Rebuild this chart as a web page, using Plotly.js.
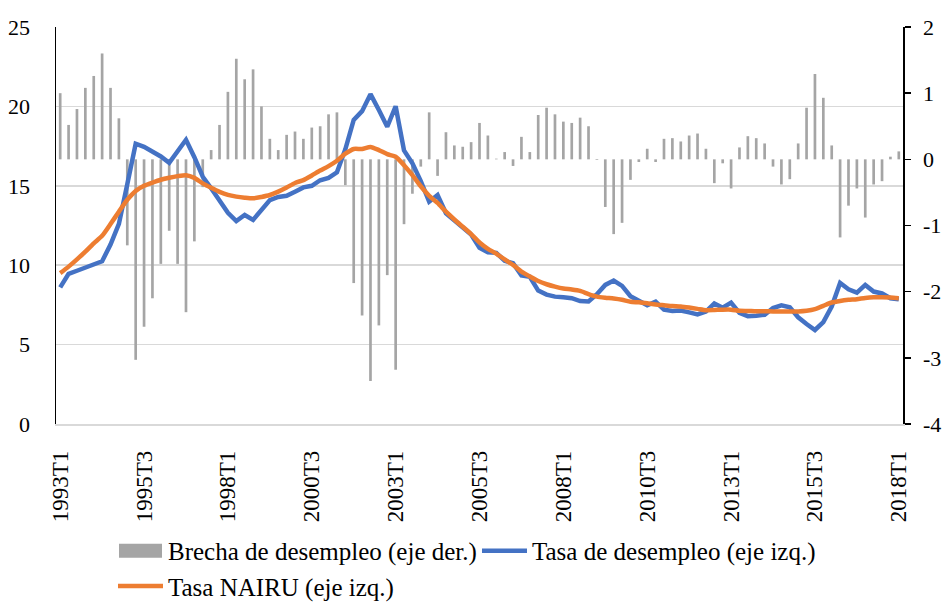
<!DOCTYPE html>
<html>
<head>
<meta charset="utf-8">
<script src="https://cdn.plot.ly/plotly-3.0.1.min.js"></script>
<style>
  html, body { margin: 0; padding: 0; background: #fff; }
  #chart { width: 944px; height: 604px; }
</style>
</head>
<body>
<div id="chart"></div>
<script>
// Quarterly categories 1993T1 .. 2018T1
const startYear = 1993;
const endYear = 2018;
const quarters = [];
for (let y = startYear; y <= endYear; y++) {
  for (let q = 1; q <= 4; q++) {
    if (y === endYear && q > 1) break;
    quarters.push(y + 'T' + q);
  }
}

const tickLabels = ['1993T1', '1995T3', '1998T1', '2000T3', '2003T1', '2005T3',
                    '2008T1', '2010T3', '2013T1', '2015T3', '2018T1'];

// Brecha de desempleo (eje der.)
const brecha = [
  1.00, 0.52, 0.76, 1.08, 1.26, 1.60, 1.08, 0.62, -1.30, -3.03,
  -2.53, -2.10, -1.58, -1.08, -1.58, -2.31, -1.24, -0.42, 0.14, 0.52,
  1.02, 1.52, 1.21, 1.36, 0.80, 0.31, 0.14, 0.37, 0.42, 0.31,
  0.48, 0.50, 0.68, 0.71, -0.39, -1.87, -2.36, -3.35, -2.51, -1.75,
  -3.18, -0.98, -0.52, -0.11, 0.71, -0.25, 0.41, 0.21, 0.19, 0.26,
  0.55, 0.36, 0.01, 0.11, -0.10, 0.34, 0.11, 0.67, 0.78, 0.68,
  0.57, 0.55, 0.63, 0.50, -0.01, -0.72, -1.13, -0.96, -0.31, -0.04,
  0.16, -0.04, 0.31, 0.32, 0.27, 0.36, 0.39, 0.16, -0.36, -0.06,
  -0.44, 0.18, 0.35, 0.32, 0.24, -0.11, -0.38, -0.30, 0.24, 0.78,
  1.29, 0.93, 0.21, -1.18, -0.70, -0.44, -0.88, -0.38, -0.33, 0.04,
  0.12
];

// Tasa de desempleo (eje izq.)
const desempleo = [
  8.60, 9.45, 9.65, 9.85, 10.10, 10.25, 11.30, 12.60, 15.10, 17.65,
  17.45, 17.15, 16.85, 16.45, 17.15, 17.90, 16.80, 15.57, 14.85, 14.10,
  13.30, 12.78, 13.16, 12.85, 13.47, 14.10, 14.30, 14.37, 14.63, 14.90,
  15.00, 15.35, 15.50, 15.85, 17.30, 19.15, 19.70, 20.77, 19.77, 18.72,
  20.01, 17.23, 16.42, 15.30, 14.00, 14.42, 13.27, 12.85, 12.42, 11.93,
  11.10, 10.82, 10.78, 10.28, 10.12, 9.35, 9.27, 8.40, 8.15, 8.02,
  7.98, 7.92, 7.74, 7.72, 8.17, 8.76, 9.03, 8.70, 8.05, 7.80,
  7.48, 7.70, 7.20, 7.12, 7.15, 7.03, 6.90, 7.08, 7.59, 7.32,
  7.64, 7.00, 6.79, 6.82, 6.88, 7.30, 7.47, 7.35, 6.72, 6.30,
  5.92, 6.42, 7.40, 8.88, 8.48, 8.27, 8.76, 8.34, 8.22, 7.92,
  7.85
];

// Tasa NAIRU (eje izq.)
const nairu = [
  9.50, 9.91, 10.37, 10.85, 11.38, 11.85, 12.59, 13.37, 14.12, 14.68,
  15.00, 15.20, 15.38, 15.51, 15.61, 15.67, 15.50, 15.15, 14.87, 14.62,
  14.43, 14.32, 14.25, 14.21, 14.30, 14.42, 14.63, 14.89, 15.18, 15.36,
  15.65, 15.96, 16.24, 16.58, 17.02, 17.32, 17.32, 17.45, 17.25, 16.99,
  16.83, 16.30, 15.67, 14.97, 14.37, 13.92, 13.37, 12.88, 12.42, 11.96,
  11.43, 11.03, 10.73, 10.36, 10.02, 9.60, 9.29, 9.00, 8.80, 8.65,
  8.53, 8.47, 8.38, 8.18, 8.02, 7.95, 7.90, 7.82, 7.70, 7.66,
  7.60, 7.53, 7.48, 7.43, 7.40, 7.33, 7.25, 7.17, 7.18, 7.20,
  7.20, 7.13, 7.12, 7.10, 7.10, 7.09, 7.09, 7.09, 7.09, 7.13,
  7.23, 7.44, 7.65, 7.75, 7.82, 7.86, 7.94, 7.98, 7.98, 7.96,
  7.92
];

const rightTicks = [-4, -3, -2, -1, 0, 1, 2];
const leftTicks = [0, 5, 10, 15, 20, 25];

const FONT = 'Liberation Serif, Times New Roman, serif';

const traces = [
  {
    type: 'bar', x: quarters, y: brecha, yaxis: 'y', xaxis: 'x',
    name: 'Brecha de desempleo (eje der.)',
    marker: { color: '#a5a5a5' }, legend: 'legend'
  },
  {
    type: 'scatter', mode: 'lines', x: quarters, y: desempleo, yaxis: 'y2', xaxis: 'x',
    name: 'Tasa de desempleo (eje izq.)',
    line: { color: '#4472c4', width: 4.5 }, legend: 'legend'
  },
  {
    type: 'scatter', mode: 'lines', x: quarters, y: nairu, yaxis: 'y2', xaxis: 'x',
    name: 'Tasa NAIRU (eje izq.)',
    line: { color: '#ed7d31', width: 4.5, shape: 'spline', smoothing: 0.6 }, legend: 'legend2'
  }
];

const legendCommon = {
  orientation: 'h',
  xref: 'container', yref: 'container',
  x: 0.1197, xanchor: 'left',
  yanchor: 'top',
  traceorder: 'normal',
  itemwidth: 45,
  entrywidth: 304, entrywidthmode: 'pixels',
  font: { family: FONT, size: 25, color: '#000' },
  bgcolor: 'rgba(0,0,0,0)',
  borderwidth: 0
};

const layout = {
  width: 944, height: 604,
  margin: { l: 56, r: 41, t: 27, b: 180, pad: 0, autoexpand: false },
  paper_bgcolor: '#ffffff', plot_bgcolor: '#ffffff',
  font: { family: FONT, size: 22, color: '#000000' },
  showlegend: true,
  bargap: 0.68,
  xaxis: {
    type: 'category', automargin: false,
    categoryorder: 'array', categoryarray: quarters,
    tickmode: 'array', tickvals: tickLabels, ticktext: tickLabels,
    tickangle: -90,
    ticks: '', showgrid: false, zeroline: false,
    showline: true, linecolor: '#d9d9d9', linewidth: 1.5,
    ticklabelstandoff: 16,
    tickfont: { family: FONT, size: 23, color: '#000' },
    fixedrange: true
  },
  yaxis: {
    side: 'right', range: [-4, 2], automargin: false,
    tickmode: 'array', tickvals: rightTicks, ticktext: rightTicks.map(String),
    showgrid: false, zeroline: false,
    showline: true, linecolor: '#000000', linewidth: 1.5,
    ticks: 'outside', ticklen: 6, tickwidth: 1.5, tickcolor: '#000000',
    ticklabelstandoff: 8,
    tickfont: { family: FONT, size: 22, color: '#000' },
    fixedrange: true
  },
  yaxis2: {
    overlaying: 'y', side: 'left', range: [0, 25], automargin: false,
    tickmode: 'array', tickvals: leftTicks, ticktext: leftTicks.map(String),
    showgrid: true, gridcolor: '#d9d9d9', gridwidth: 1.5,
    zeroline: false,
    showline: true, linecolor: '#000000', linewidth: 1.5,
    ticks: '',
    ticklabelstandoff: 20,
    tickfont: { family: FONT, size: 22, color: '#000' },
    fixedrange: true
  },
  legend: Object.assign({}, legendCommon, { y: 0.126 }),
  legend2: Object.assign({}, legendCommon, { y: 0.0675 })
};

Plotly.newPlot('chart', traces, layout, { displayModeBar: false, staticPlot: true }).then(function (gd) {
  // Widen the bar legend swatch into a rectangle like the original
  const barLegendItem = gd.querySelector('.legend .traces .legendpoints');
  if (barLegendItem) {
    barLegendItem.querySelectorAll('path').forEach(function (p) {
      p.setAttribute('d', 'M-21.5,7H21.5V-7H-21.5Z');
    });
  }
});
</script>
</body>
</html>
